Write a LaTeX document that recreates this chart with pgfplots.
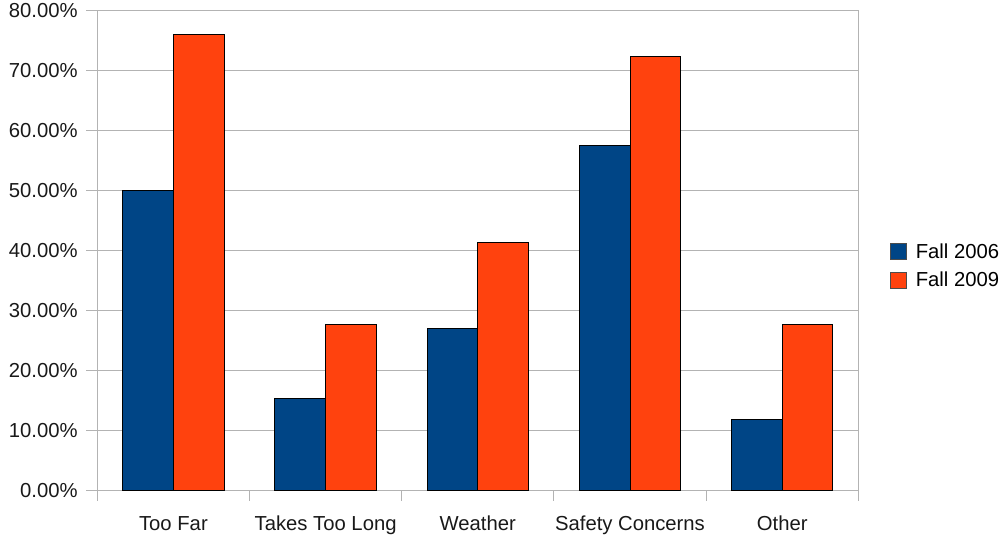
\documentclass[border=0pt]{standalone}
\usepackage{pgfplots}
\pgfplotsset{compat=1.18}
\usepackage{fontspec}
\setmainfont{Liberation Sans}
\definecolor{cA}{HTML}{004586}
\definecolor{cB}{HTML}{FF420E}
\definecolor{gridc}{HTML}{B3B3B3}
\begin{document}
\begin{tikzpicture}
\useasboundingbox (0,0) rectangle (752.25pt,403.5pt);
\begin{axis}[
  at={(72.975pt,35.475pt)}, anchor=south west,
  scale only axis, width=570.75pt, height=360pt,
  xmin=-0.5, xmax=4.5, ymin=0, ymax=80,
  ybar, bar width=0.3333,
  xtick={0,1,2,3,4},
  xticklabels={Too Far,Takes Too Long,Weather,Safety Concerns,Other},
  minor xtick={-0.5,0.5,1.5,2.5,3.5,4.5},
  major x tick style={draw=none},
  ytick={0,10,...,80},
  yticklabel={\pgfmathprintnumber[fixed,fixed zerofill,precision=2]{\tick}\%},
  /pgf/number format/assume math mode=true,
  ymajorgrids, grid style={gridc, line width=0.75pt},
  axis line style={gridc, line width=0.75pt},
  tick style={gridc, line width=0.75pt},
  tick align=outside, xtick pos=bottom, ytick pos=left,
  major tick length=8.25pt, minor tick length=7.5pt,
  ticklabel style={font=\fontsize{15.2}{18}\selectfont, text=black!90},
  xticklabel style={anchor=base, yshift=-21.5pt},
  yticklabel style={anchor=east, xshift=-3pt},
  legend style={at={(1.041,0.468)}, anchor=west, draw=none, fill=none,
    font=\fontsize{15.2}{18}\selectfont, row sep=5pt, column sep=5pt, inner sep=0pt, outer sep=0pt},
  legend cell align=left,
  legend image code/.code={\draw[#1, draw=black!70, line width=0.75pt] (0pt,-6pt) rectangle (12pt,6pt);},
]
\addplot[fill=cA, draw=black, line width=0.75pt, bar shift=-0.16667] coordinates {(0,50.0) (1,15.4) (2,27.0) (3,57.6) (4,11.8)};
\addplot[fill=cB, draw=black, line width=0.75pt, bar shift=0.16667] coordinates {(0,76.1) (1,27.7) (2,41.4) (3,72.3) (4,27.7)};
\legend{Fall 2006, Fall 2009}
\end{axis}
\end{tikzpicture}
\end{document}
